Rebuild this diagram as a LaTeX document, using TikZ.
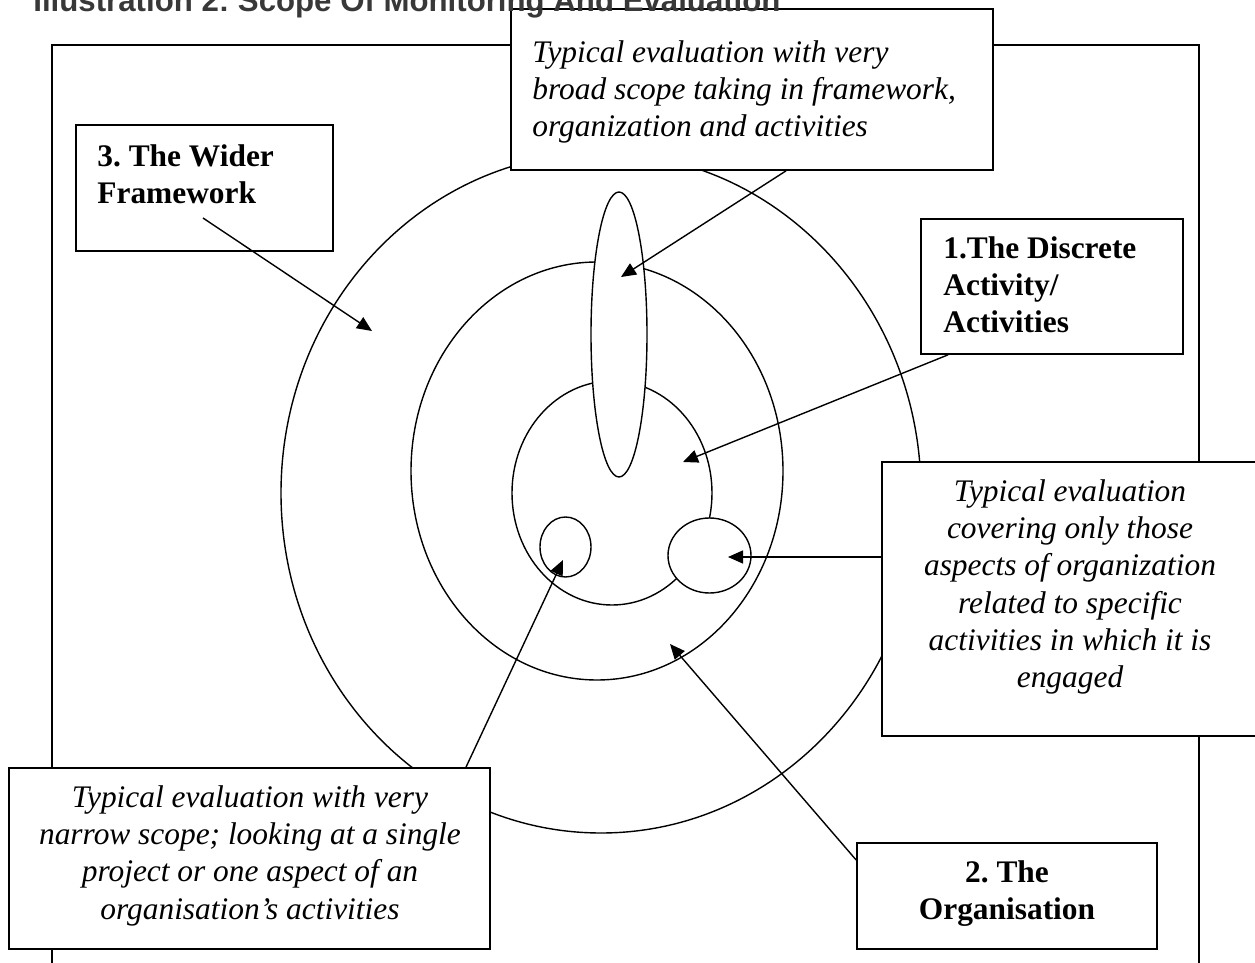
\documentclass[tikz,border=0pt]{standalone}
\usepackage{fontspec}
\setmainfont{Liberation Serif}
\newfontfamily\titlefont{Liberation Sans}
\usetikzlibrary{arrows.meta}
\frenchspacing
\begin{document}
\begin{tikzpicture}[x=0.5pt,y=-0.5pt,
  box/.style={draw, line width=0.85pt, fill=white, inner sep=0pt, rectangle},
  ring/.style={draw, line width=0.7pt},
  ital/.style={inner sep=0pt, font=\fontsize{15.7}{18.6}\selectfont\itshape},
  bld/.style={inner sep=0pt, font=\fontsize{15.7}{18.6}\selectfont\bfseries},
  arr/.style={-{Triangle[length=7.5pt,width=6.5pt]}, line width=0.7pt}]
\useasboundingbox (0,0) rectangle (1255,963);
% outer frame (open at the bottom)
\draw[line width=0.85pt] (52,975) -- (52,45) -- (1199,45) -- (1199,975);
% rings
\draw[ring] (601,493) ellipse [x radius=160pt, y radius=170pt];
\draw[ring] (597,471) ellipse [x radius=93pt, y radius=104.5pt];
\draw[ring] (612,493) ellipse [x radius=50pt, y radius=56pt];
% evaluation scopes
\draw[ring, fill=white] (619,334.5) ellipse [x radius=14pt, y radius=71.25pt];
\draw[ring, fill=white] (565.5,547) ellipse [x radius=12.75pt, y radius=15pt];
\draw[ring, fill=white] (709.5,555.5) ellipse [x radius=20.75pt, y radius=18.75pt];
% boxes
\node[box, minimum width=241pt, minimum height=80.5pt] (broad) at (752,89.5) {};
\node[box, minimum width=128.5pt, minimum height=63pt] (wider) at (204.5,188) {};
\node[box, minimum width=131pt, minimum height=67.5pt] (discrete) at (1052,286.5) {};
\node[box, minimum width=190pt, minimum height=137pt] (covering) at (1072,599) {};
\node[box, minimum width=240.5pt, minimum height=90.5pt] (narrow) at (249.5,858.5) {};
\node[box, minimum width=150pt, minimum height=53pt] (org) at (1007,896) {};
% arrow targets
\coordinate (tipA) at (621,277);
\coordinate (tipB) at (683,462);
\coordinate (tipC) at (372,331);
\coordinate (tipD) at (728,557);
\coordinate (tipE) at (563,560);
\coordinate (tipF) at (670,644);
% arrows
\draw[arr] ([xshift=17pt]broad.south) -- (tipA);
\draw[arr] ([xshift=-52pt]discrete.south) -- (tipB);
\draw[arr] ([xshift=-0.75pt,yshift=-15pt]wider.center) -- (tipC);
\draw[arr] ([yshift=21pt]covering.west) -- (tipD);
\draw[arr] ([xshift=108.25pt]narrow.north) -- (tipE);
\draw[arr] ([yshift=18pt]org.west) -- (tipF);
% texts
\node[ital, anchor=north west, align=left] (broadt) at (532,36)
  {\strut Typical evaluation with very\\broad scope taking in framework,\\organization and activities};
\node[bld, anchor=north west, align=left] (widert) at (97,140)
  {\strut 3. The Wider\\Framework};
\node[bld, anchor=north west, align=left] (discretet) at (943,232)
  {\strut 1.The Discrete\\Activity/\\Activities};
\node[ital, anchor=north, align=center] (coveringt) at (1070,475)
  {\strut Typical evaluation\\covering only those\\aspects of organization\\related to specific\\activities in which it is\\engaged};
\node[ital, anchor=north, align=center] (narrowt) at (250,781)
  {\strut Typical evaluation with very\\narrow scope; looking at a single\\project or one aspect of an\\organisation’s activities};
\node[bld, anchor=north, align=center] (orgt) at (1007,856)
  {\strut 2. The\\Organisation};
% title (cut off at the top edge, as in the reference)
\node[anchor=base west, inner sep=0pt, text=black!78,
  font=\titlefont\bfseries\fontsize{15.6}{18}\selectfont] (title) at (33,12)
  {Illustration 2: Scope Of Monitoring And Evaluation};
\end{tikzpicture}
\end{document}
